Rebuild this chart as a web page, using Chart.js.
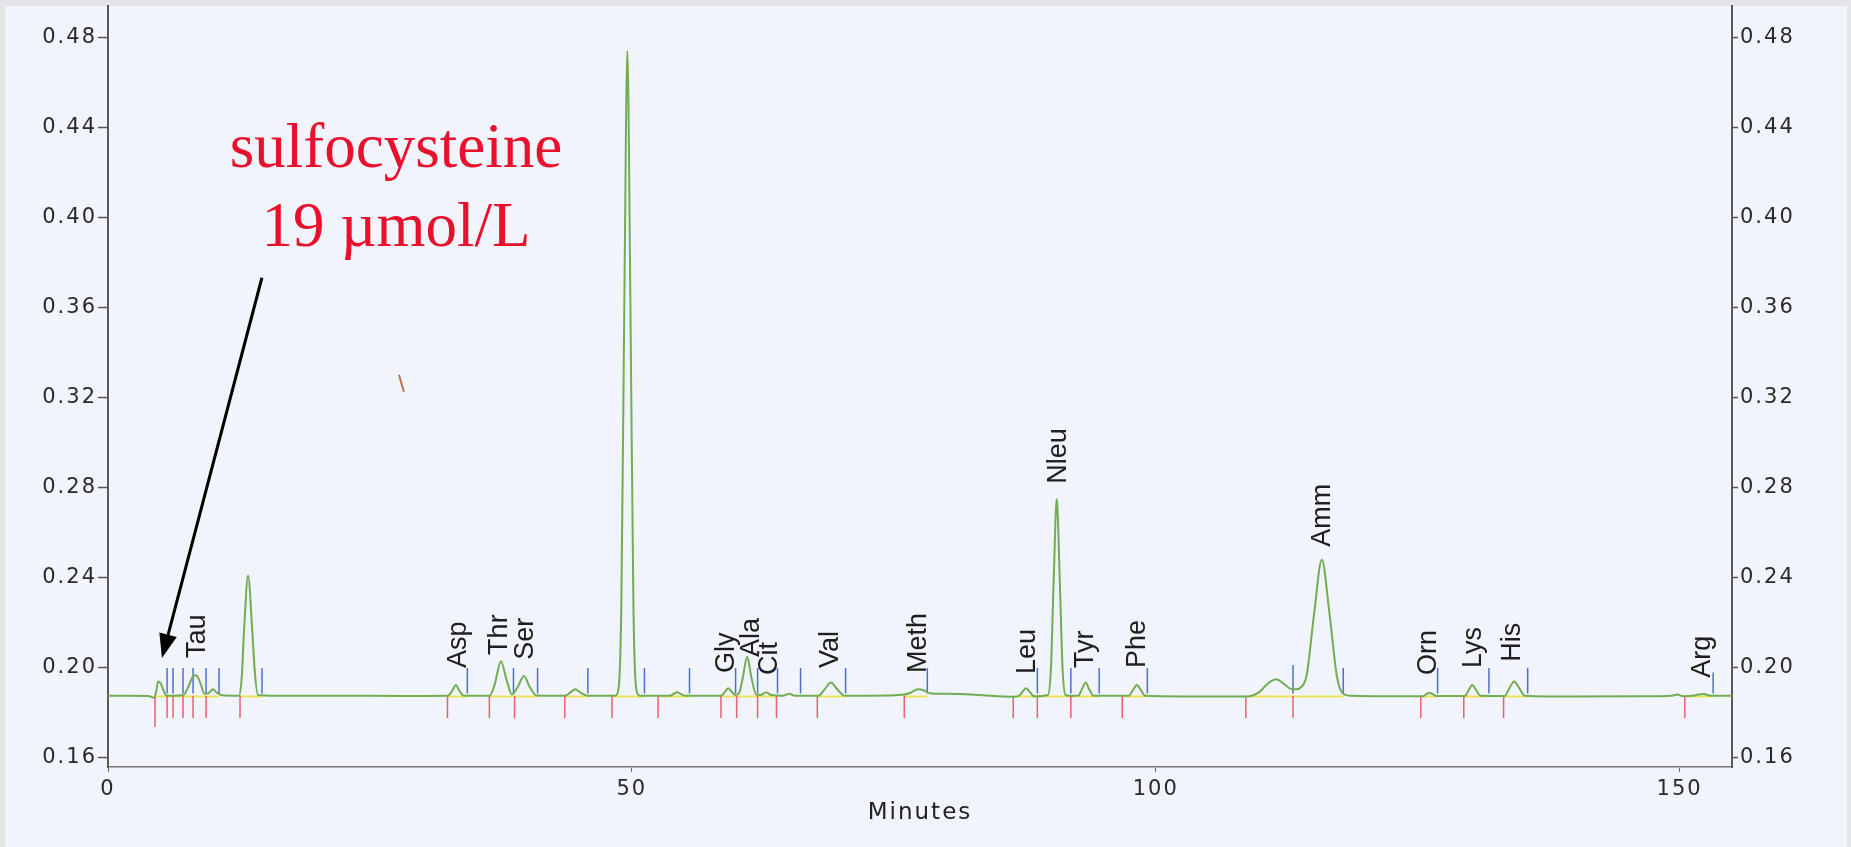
<!DOCTYPE html>
<html><head><meta charset="utf-8">
<script src="https://cdn.jsdelivr.net/npm/chart.js@4"></script>
<style>html,body{margin:0;padding:0;background:#f1f4fa;}canvas{display:block}</style>
</head><body>
<canvas id="c" width="1851" height="847"></canvas>
<script>
// ---- data ----
const timeMin = [0,2,3.9,4.35,4.55,4.8,5.05,5.3,5.55,6.3,7.2,7.7,8.1,8.4,8.8,9.2,9.6,10.0,10.4,10.9,
  12.5,12.75,13.0,13.37,13.75,14.0,14.3,16,22,28,
  32.4,32.85,33.2,33.55,33.95,36.4,36.9,37.5,38.05,38.55,39.1,39.7,40.25,40.9,
  43.6,44.1,44.6,45.1,45.7,48.4,48.72,48.99,49.28,49.57,49.86,50.15,50.42,50.75,
  53.6,54.0,54.3,54.7,55.1,58.5,58.9,59.2,59.5,59.9,60.25,60.6,61.0,61.4,61.85,
  62.3,62.8,63.3,64.5,65.0,65.5,67.8,68.4,69.0,69.6,70.3,
  74.5,76.0,76.6,77.3,77.9,78.4,80,83,86.3,86.9,87.3,87.6,87.95,88.4,
  89.71,89.99,90.27,90.55,90.83,91.11,91.39,91.8,92.6,92.95,93.3,93.65,94.05,
  97.4,97.8,98.2,98.6,99.0,104,108.7,109.8,110.8,111.5,112.2,112.9,113.4,113.8,
  114.39,115.12,115.85,116.58,117.31,118.04,118.6,119.5,124,125.5,125.85,126.1,126.4,126.8,
  129.5,129.85,130.2,130.6,131.0,133.3,133.75,134.2,134.7,135.2,
  140,146,149.3,149.8,150.3,151.2,151.8,152.3,152.8,153.5,155];
const absorbance = [0.1876,0.1877,0.1875,0.1868,0.1885,0.1940,0.1930,0.1900,0.1878,0.1877,0.1880,0.1920,0.1962,0.1968,0.1935,0.1885,0.1888,0.1905,0.1890,0.1879,
  0.1877,0.1950,0.2180,0.2410,0.2180,0.1990,0.1880,0.1877,0.1877,0.1875,
  0.1876,0.1898,0.1924,0.1898,0.1877,0.1876,0.1925,0.2030,0.1945,0.1882,0.1915,0.1964,0.1915,0.1878,
  0.1876,0.1890,0.1905,0.1890,0.1877,0.1877,0.1905,0.2267,0.3620,0.4740,0.3620,0.2267,0.1905,0.1877,
  0.1876,0.1885,0.1892,0.1884,0.1876,0.1876,0.1895,0.1910,0.1895,0.1880,0.1890,0.1960,0.2050,0.1960,0.1882,
  0.1880,0.1892,0.1880,0.1877,0.1885,0.1877,0.1876,0.1905,0.1935,0.1905,0.1877,
  0.1878,0.1882,0.1890,0.1905,0.1900,0.1888,0.1885,0.1880,0.1872,0.1875,0.1895,0.1910,0.1895,0.1874,
  0.1880,0.1993,0.2406,0.2750,0.2406,0.1993,0.1880,0.1876,0.1877,0.1905,0.1935,0.1905,0.1877,
  0.1876,0.1900,0.1924,0.1900,0.1876,0.1873,0.1873,0.1890,0.1935,0.1950,0.1930,0.1907,0.1905,0.1912,
  0.1965,0.2242,0.2480,0.2242,0.1957,0.1881,0.1876,0.1875,0.1874,0.1874,0.1885,0.1890,0.1885,0.1875,
  0.1875,0.1900,0.1924,0.1900,0.1876,0.1875,0.1910,0.1940,0.1910,0.1877,
  0.1873,0.1874,0.1877,0.1882,0.1874,0.1876,0.1882,0.1884,0.1878,0.1876,0.1876];

// peak start marks (red): [time, lower end]
const peakStartMarks = [[4.49,0.1738],[5.64,0.1778],[6.21,0.1778],[7.16,0.1778],[8.12,0.1778],[9.36,0.1778],[12.6,0.1778],
  [32.4,0.1778],[36.4,0.1778],[38.8,0.1778],[43.6,0.1778],[48.1,0.1778],[52.5,0.1778],[58.5,0.1778],[60.0,0.1778],
  [62.0,0.1778],[63.8,0.1778],[67.7,0.1778],[76.0,0.1778],[86.4,0.1778],[88.7,0.1778],[91.9,0.1778],[96.8,0.1778],
  [108.6,0.1778],[113.1,0.1778],[125.3,0.1778],[129.4,0.1778],[133.2,0.1778],[150.5,0.1778]];
// peak end marks (blue): [time, upper end]
const peakEndMarks = [[5.64,0.2],[6.21,0.2],[7.16,0.2],[8.12,0.2],[9.36,0.2],[10.6,0.2],[14.7,0.2],
  [34.3,0.2],[38.7,0.2],[41.0,0.2],[45.8,0.2],[51.2,0.2],[55.5,0.2],[59.9,0.2],[62.0,0.2],[63.9,0.2],[66.1,0.2],
  [70.4,0.2],[78.2,0.2],[88.7,0.2],[91.9,0.2],[94.6,0.2],[99.2,0.2],[113.1,0.2013],[117.9,0.2],
  [126.9,0.2],[131.8,0.2],[135.5,0.2],[153.2,0.198]];
const markRedTop = 0.1876, markBlueBottom = 0.1886, integrationBase = 0.1873;

const peakNames     = ['Tau','Asp','Thr','Ser','Gly','Ala','Cit','Val','Meth','Leu','Nleu','Tyr','Phe','Amm','Orn','Lys','His','Arg'];
const peakLabelTime = [8.49,33.4,37.3,39.8,58.9,61.3,63.0,68.9,77.3,87.7,90.6,93.2,98.2,115.8,125.9,130.2,134.0,152.1];
const peakLabelBase = [0.2044,0.2000,0.2058,0.2036,0.1978,0.2049,0.1969,0.2000,0.1978,0.1973,0.2818,0.2000,0.2000,0.2538,0.1969,0.2000,0.2027,0.1956];

const xTickValues = [0,50,100,150];
const yTickValues = [0.16,0.20,0.24,0.28,0.32,0.36,0.40,0.44,0.48];
const annotationLines = ['sulfocysteine','19 µmol/L'];

// ---- build datasets ----
const green = timeMin.map((t,i)=>({x:t,y:absorbance[i]}));
const red = []; peakStartMarks.forEach(([t,lo])=>{red.push({x:t,y:markRedTop},{x:t,y:lo},{x:t,y:null});});
const blue = []; peakEndMarks.forEach(([t,hi])=>{blue.push({x:t,y:markBlueBottom},{x:t,y:hi},{x:t,y:null});});
const yellow = [];
peakStartMarks.forEach(([r])=>{ const e = peakEndMarks.find(([b])=>b>r); if(e){ yellow.push({x:r,y:integrationBase},{x:e[0],y:integrationBase},{x:e[0],y:null}); } });

const tickFont = {family:'"DejaVu Sans"', size:21};
const deco = {
  id:'deco',
  beforeDraw(chart){
    const c=chart.ctx; c.save();
    c.fillStyle='#e4e5e8'; c.fillRect(0,0,chart.width,chart.height);
    c.fillStyle='#f1f4fa'; c.fillRect(5,6,1842,841);
    c.restore();
    c.letterSpacing='2px';
  },
  afterDatasetsDraw(chart){
    const c=chart.ctx, xs=chart.scales.x, ys=chart.scales.y;
    c.save();
    c.letterSpacing='0px';
    // peak names
    c.fillStyle='#1e1e1e'; c.font='27px "Liberation Sans", Arial, sans-serif';
    c.textAlign='left'; c.textBaseline='middle';
    peakNames.forEach((n,i)=>{
      c.save(); c.translate(xs.getPixelForValue(peakLabelTime[i]), ys.getPixelForValue(peakLabelBase[i]));
      c.rotate(-Math.PI/2); c.fillText(n,0,1); c.restore();
    });
    // annotation text
    c.fillStyle='#e8102c'; c.font='63px "Liberation Serif", "Times New Roman", serif';
    c.textAlign='center'; c.textBaseline='alphabetic';
    c.fillText(annotationLines[0], xs.getPixelForValue(27.48), ys.getPixelForValue(0.4227));
    c.fillText(annotationLines[1], xs.getPixelForValue(27.48), ys.getPixelForValue(0.3876));
    // arrow
    const x0=xs.getPixelForValue(14.69), y0=ys.getPixelForValue(0.3733);
    const x1=xs.getPixelForValue(5.15), y1=ys.getPixelForValue(0.2044);
    const ang=Math.atan2(y1-y0,x1-x0), L=24, W=9;
    const bx=x1-L*Math.cos(ang), by=y1-L*Math.sin(ang);
    c.strokeStyle='#000'; c.lineWidth=3;
    c.beginPath(); c.moveTo(x0,y0); c.lineTo(bx,by); c.stroke();
    c.fillStyle='#000'; c.beginPath(); c.moveTo(x1,y1);
    c.lineTo(bx+W*Math.sin(ang), by-W*Math.cos(ang));
    c.lineTo(bx-W*Math.sin(ang), by+W*Math.cos(ang)); c.closePath(); c.fill();
    // small stray mark on the scan
    c.strokeStyle='#c07050'; c.lineWidth=2;
    c.beginPath(); c.moveTo(xs.getPixelForValue(27.77),ys.getPixelForValue(0.3302));
    c.lineTo(xs.getPixelForValue(28.24),ys.getPixelForValue(0.3227)); c.stroke();
    c.restore();
  }
};

const yCommon = (pos,w,tl,pad)=>({
  type:'linear', position:pos, min:0.156, max:0.494,
  afterBuildTicks:s=>{s.ticks=yTickValues.map(v=>({value:v}));},
  afterFit:s=>{s.width=w; s.paddingTop=0; s.paddingBottom=0;},
  ticks:{font:tickFont, color:'#2a2a2a', padding:pad, callback:v=>Number(v).toFixed(2)},
  grid:{drawOnChartArea:false, drawTicks:true, tickLength:tl, tickColor:'#555', tickWidth:1.5},
  border:{display:true, color:'#5a5a5a', width:2}
});

new Chart(document.getElementById('c'), {
  type:'line',
  data:{datasets:[
    {data:green, borderColor:'#72ad55', borderWidth:2, pointRadius:0, cubicInterpolationMode:'monotone', yAxisID:'y'},
    {data:blue, borderColor:'#4f6fd0', borderWidth:1.5, pointRadius:0, tension:0, spanGaps:false, yAxisID:'y'},
    {data:red, borderColor:'#ea6070', borderWidth:1.5, pointRadius:0, tension:0, spanGaps:false, yAxisID:'y'},
    {data:yellow, borderColor:'#ece456', borderWidth:2, pointRadius:0, tension:0, spanGaps:false, yAxisID:'y'}
  ]},
  options:{
    responsive:false, animation:false, events:[],
    layout:{padding:{top:6,left:0,right:0,bottom:0}},
    plugins:{legend:{display:false}, tooltip:{enabled:false}},
    scales:{
      x:{type:'linear', min:0, max:155,
        afterBuildTicks:s=>{s.ticks=xTickValues.map(v=>({value:v}));},
        afterFit:s=>{s.height=80; s.paddingLeft=0; s.paddingRight=0;},
        ticks:{font:tickFont, color:'#2a2a2a', padding:5, maxRotation:0},
        grid:{drawOnChartArea:false, drawTicks:true, tickLength:5, tickColor:'#666'},
        border:{display:true, color:'#777', width:1.5},
        title:{display:true, text:'Minutes', color:'#222', font:{family:'"DejaVu Sans"', size:23}, padding:{top:0,bottom:20}}
      },
      y:yCommon('left',108,10,1),
      y2:yCommon('right',119,6,2)
    }
  },
  plugins:[deco]
});
</script>
</body></html>
